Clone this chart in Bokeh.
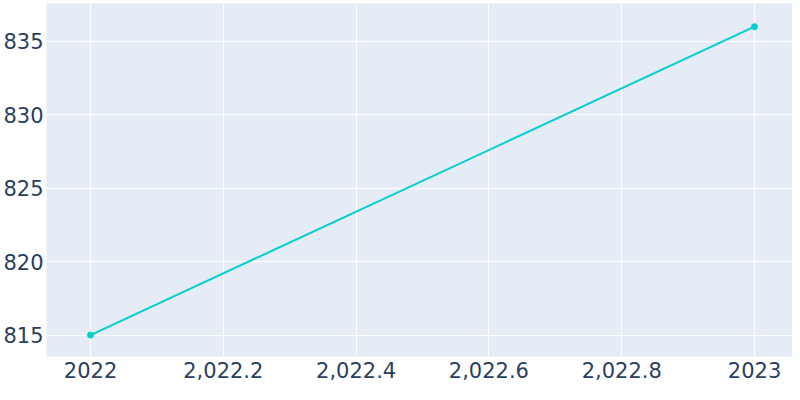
from bokeh.plotting import figure
from bokeh.models import FixedTicker, Range1d
from bokeh.embed import file_html
from bokeh.resources import INLINE

years = [2022, 2023]
values = [815, 836]
x_ticks = [2022, 2022.2, 2022.4, 2022.6, 2022.8, 2023]
x_labels = ["2022", "2,022.2", "2,022.4", "2,022.6", "2,022.8", "2023"]
y_ticks = [815, 820, 825, 830, 835]

p = figure(width=792, height=392, output_backend="svg", toolbar_location=None,
           x_range=Range1d(2021.9337, 2023.0572), y_range=Range1d(813.54, 837.58),
           min_border_left=10, min_border_right=0, min_border_top=3, min_border_bottom=36)
p.background_fill_color = "#E5ECF6"
p.border_fill_color = "white"
p.outline_line_color = None

p.line(years, values, line_color="#00CED1", line_width=2)
p.scatter(years, values, size=6, fill_color="#00CED1", line_color="#00CED1")

p.xaxis.ticker = FixedTicker(ticks=x_ticks)
p.xaxis.major_label_overrides = {t: l for t, l in zip(x_ticks, x_labels)}
p.yaxis.ticker = FixedTicker(ticks=y_ticks)

for ax in (p.xaxis, p.yaxis):
    ax.axis_line_color = None
    ax.major_tick_line_color = None
    ax.minor_tick_line_color = None
    ax.major_tick_out = 0
    ax.major_tick_in = 0
    ax.minor_tick_out = 0
    ax.minor_tick_in = 0
    ax.major_label_text_color = "#2a3f5f"
    ax.major_label_text_font = "DejaVu Sans"
    ax.major_label_text_font_size = "21px"
p.yaxis.major_label_standoff = 3
p.xaxis.major_label_standoff = 5

p.xgrid.grid_line_color = "white"
p.ygrid.grid_line_color = "white"
p.xgrid.grid_line_width = 1
p.ygrid.grid_line_width = 1

open("out.html", "w").write(file_html(p, INLINE))
